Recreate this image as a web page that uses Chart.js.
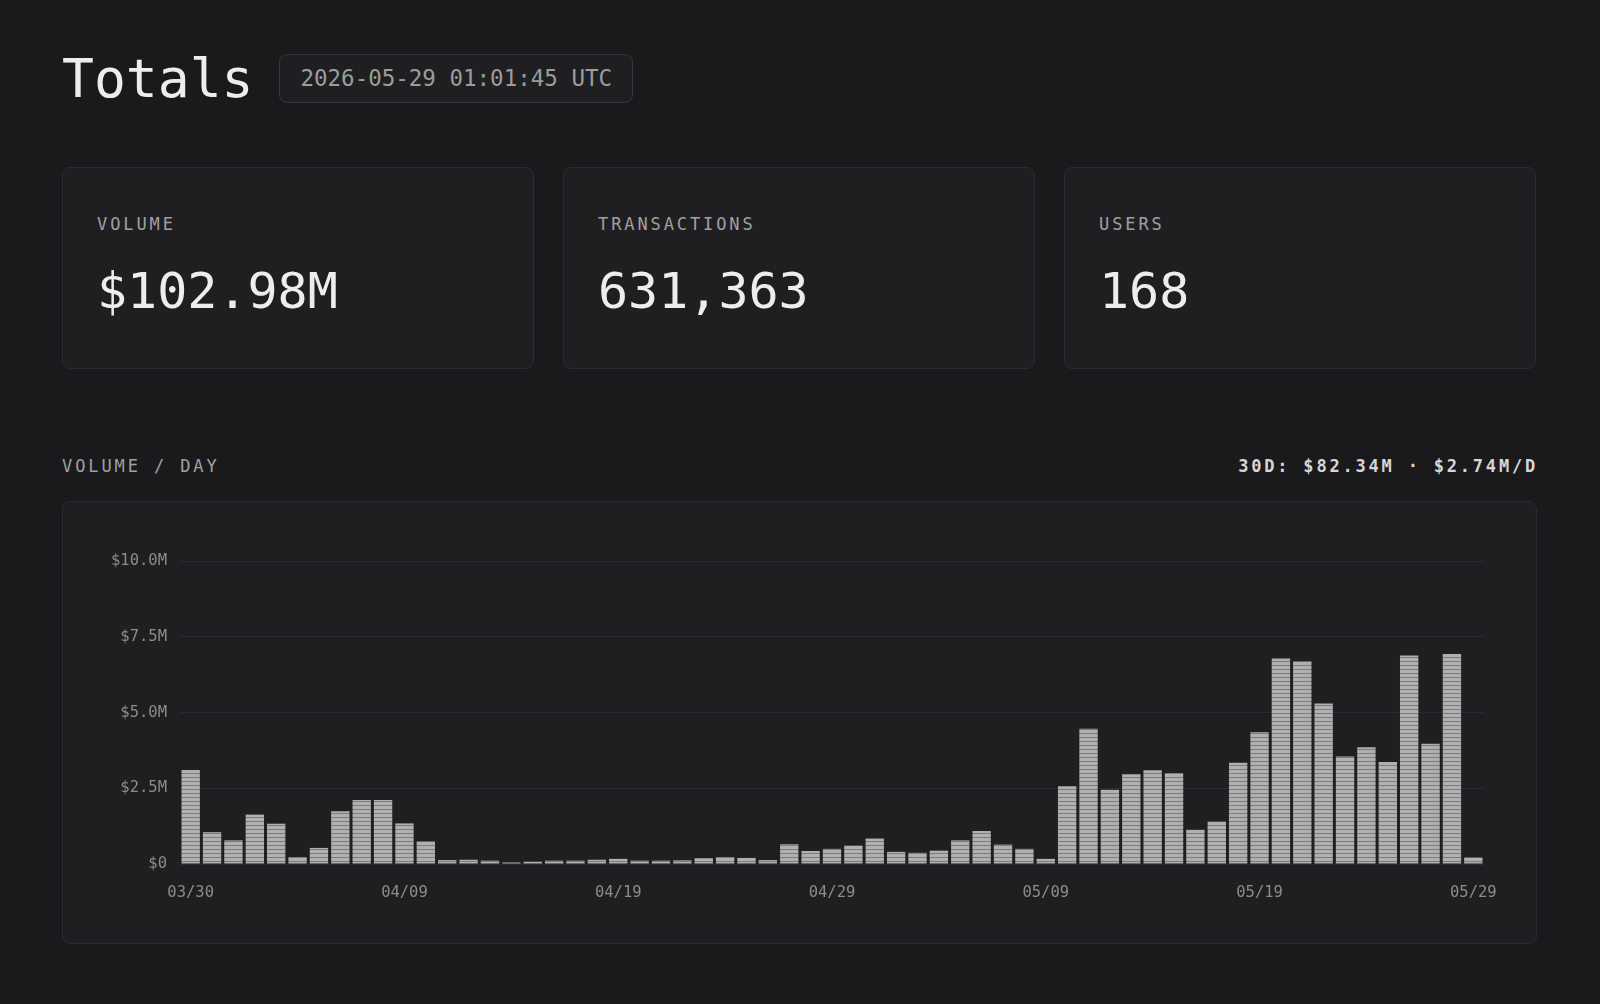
<!DOCTYPE html>
<html>
<head>
<meta charset="utf-8">
<title>Totals</title>
<script src="https://cdn.jsdelivr.net/npm/chart.js@4.4.1/dist/chart.umd.min.js"></script>
<style>
  * { box-sizing: border-box; }
  body {
    margin: 0;
    background: #1a1a1c;
    color: #ececec;
    font-family: 'DejaVu Sans Mono', monospace;
  }
  .wrap { width: 1475px; margin-left: 62px; }
  .head { display: flex; align-items: center; padding-top: 54px; height: 103px; }
  .head h1 { margin: 0; font-size: 53px; font-weight: normal; line-height: 49px; color: #ededed; }
  .stamp {
    margin-left: 26px; height: 49px; line-height: 47px; padding: 0 20px;
    border: 1px solid #36363a; border-radius: 8px; background: #1f1f22;
    font-size: 22.5px; color: #9c9c9c;
  }
  .cards { display: flex; gap: 29px; margin-top: 64px; }
  .card {
    width: 472px; height: 202px; background: #1f1f22;
    border: 1px solid #2c2c30; border-radius: 8px; padding: 46px 0 0 34px;
  }
  .label { font-size: 17px; line-height: 20px; letter-spacing: 2.9px; color: #a0a0a0; }
  .value { font-size: 50px; line-height: 56px; margin-top: 29px; color: #ededed; }
  .sect { display: flex; justify-content: space-between; margin-top: 87px; height: 20px; }
  .sect .right { color: #d6d6d6; font-weight: bold; letter-spacing: 2.8px; margin-right: -1px; }
  .chart-card {
    margin-top: 25px; width: 1475px; height: 443px; background: #1f1f22;
    border: 1px solid #2c2c30; border-radius: 8px;
  }
</style>
</head>
<body>
<div class="wrap">
  <div class="head">
    <h1>Totals</h1>
    <div class="stamp">2026-05-29 01:01:45 UTC</div>
  </div>
  <div class="cards" id="cards"></div>
  <div class="sect">
    <div class="label">VOLUME / DAY</div>
    <div class="label right">30D: $82.34M · $2.74M/D</div>
  </div>
  <div class="chart-card">
    <canvas id="volChart" width="1473" height="441"></canvas>
  </div>
</div>
<script>
// totals shown in the cards
const cardNames = ['VOLUME', 'TRANSACTIONS', 'USERS'];
const cardValues = ['$102.98M', '631,363', '168'];

// daily volume, $M
const days = [
  '03/30', '03/31', '04/01', '04/02', '04/03', '04/04', '04/05', '04/06', '04/07', '04/08',
  '04/09', '04/10', '04/11', '04/12', '04/13', '04/14', '04/15', '04/16', '04/17', '04/18',
  '04/19', '04/20', '04/21', '04/22', '04/23', '04/24', '04/25', '04/26', '04/27', '04/28',
  '04/29', '04/30', '05/01', '05/02', '05/03', '05/04', '05/05', '05/06', '05/07', '05/08',
  '05/09', '05/10', '05/11', '05/12', '05/13', '05/14', '05/15', '05/16', '05/17', '05/18',
  '05/19', '05/20', '05/21', '05/22', '05/23', '05/24', '05/25', '05/26', '05/27', '05/28',
  '05/29'
];
const volume = [
  3.10, 1.05, 0.78, 1.63, 1.33, 0.23, 0.53, 1.74, 2.11, 2.11,
  1.34, 0.75, 0.13, 0.14, 0.11, 0.05, 0.08, 0.11, 0.11, 0.14,
  0.17, 0.11, 0.11, 0.12, 0.19, 0.23, 0.20, 0.13, 0.65, 0.43,
  0.50, 0.61, 0.84, 0.40, 0.37, 0.44, 0.78, 1.09, 0.64, 0.50,
  0.17, 2.57, 4.46, 2.45, 2.96, 3.09, 3.00, 1.13, 1.40, 3.34,
  4.35, 6.78, 6.69, 5.30, 3.55, 3.85, 3.37, 6.88, 3.97, 6.93,
  0.22
];
const yTicks = [0, 2.5, 5, 7.5, 10];

const cards = document.getElementById('cards');
cardNames.forEach((name, i) => {
  const el = document.createElement('div');
  el.className = 'card';
  el.innerHTML = `<div class="label">${name}</div><div class="value">${cardValues[i]}</div>`;
  cards.appendChild(el);
});

// striped fill for the bars
const tile = document.createElement('canvas');
tile.width = 4; tile.height = 4;
const tctx = tile.getContext('2d');
tctx.fillStyle = '#b0b0b0';
tctx.fillRect(0, 0, 4, 4);
tctx.fillStyle = '#7d7d7d';
tctx.fillRect(0, 3, 4, 1);
const stripes = document.getElementById('volChart').getContext('2d').createPattern(tile, 'repeat');

Chart.defaults.font.family = "'DejaVu Sans Mono', monospace";
Chart.defaults.color = '#8c8c8c';

new Chart(document.getElementById('volChart').getContext('2d'), {
  type: 'bar',
  data: {
    labels: days,
    datasets: [{
      data: volume,
      backgroundColor: stripes,
      borderWidth: 0,
      barPercentage: 0.86,
      categoryPercentage: 1
    }]
  },
  options: {
    responsive: false,
    animation: false,
    layout: { padding: { top: 59, right: 52, bottom: 0, left: 0 } },
    plugins: { legend: { display: false }, tooltip: { enabled: false } },
    scales: {
      x: {
        grid: { display: false, drawTicks: false },
        border: { display: false },
        afterFit: axis => { axis.height = 79; },
        ticks: {
          autoSkip: false,
          maxRotation: 0,
          padding: 20,
          font: { size: 15.5 },
          callback: (v, i) => (i % 10 === 0 ? days[i] : '')
        }
      },
      y: {
        min: 0,
        max: 10,
        afterFit: axis => { axis.width = 117; },
        afterBuildTicks: axis => { axis.ticks = yTicks.map(v => ({ value: v })); },
        grid: { color: '#2b2b2f', drawTicks: false },
        border: { display: false },
        ticks: {
          padding: 13,
          font: { size: 15.5 },
          callback: v => (v === 0 ? '$0' : '$' + v.toFixed(1) + 'M')
        }
      }
    }
  }
});
</script>
</body>
</html>
